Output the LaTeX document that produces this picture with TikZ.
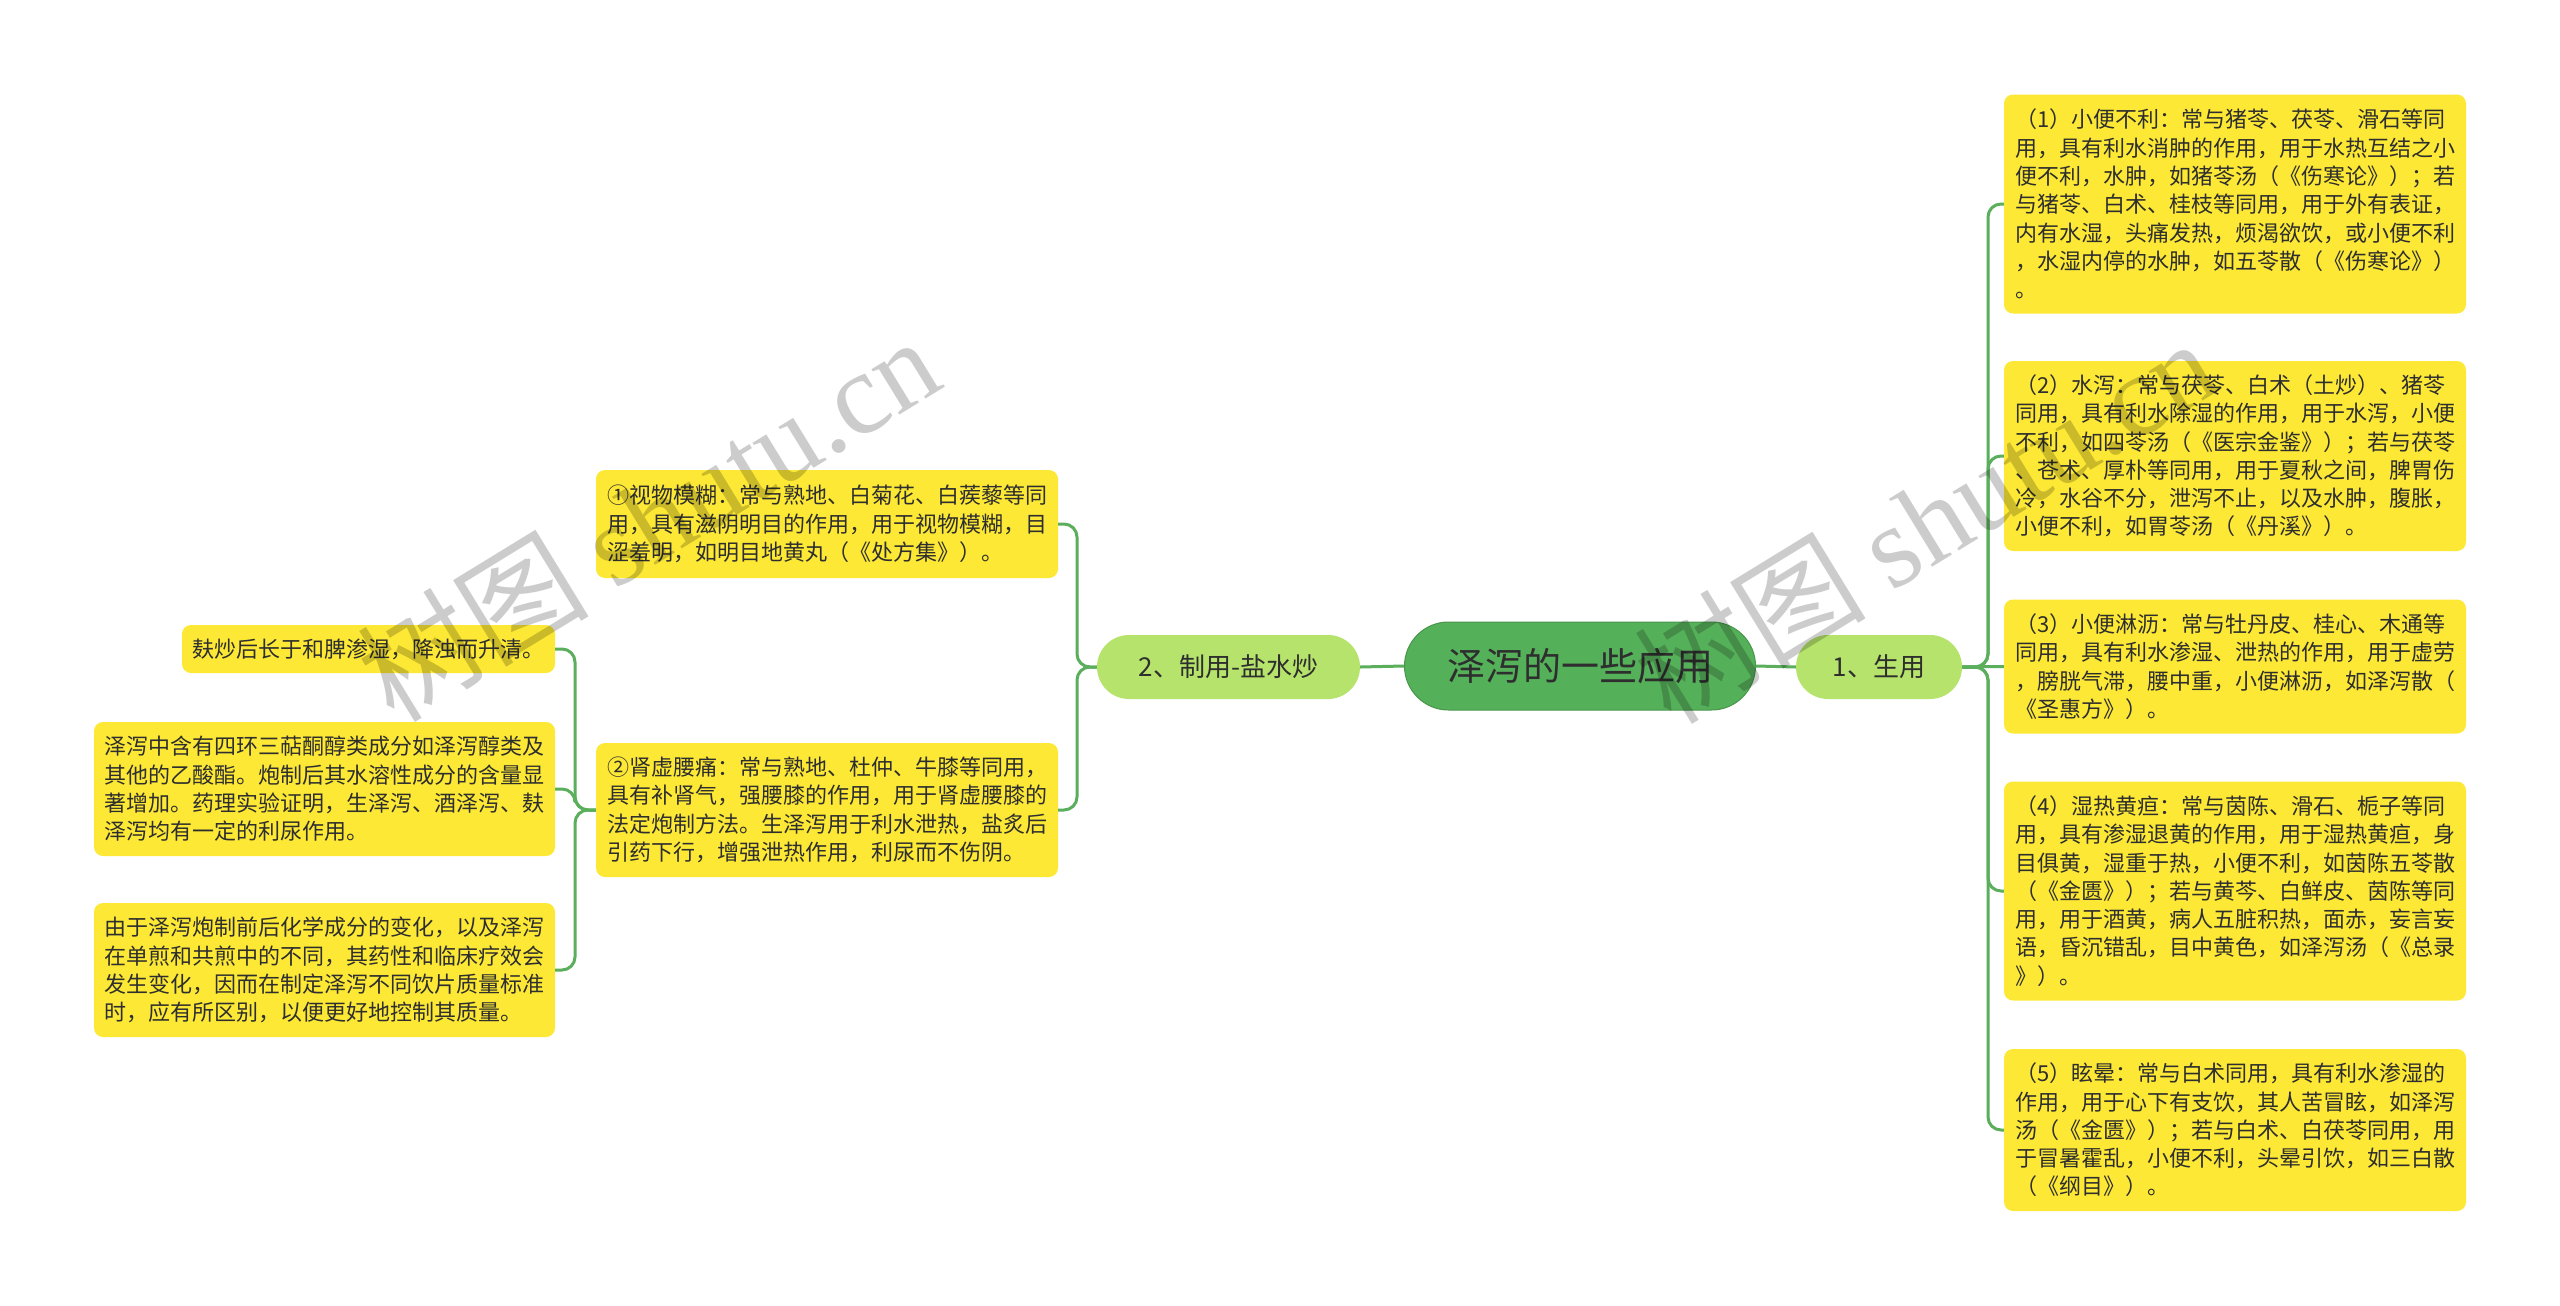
\documentclass[tikz,border=0pt]{standalone}
\usepackage{fontspec}
\setmainfont{Noto Sans CJK SC}
\newfontfamily\wmserif{Liberation Serif}
\usetikzlibrary{calc}
\definecolor{rootgreen}{HTML}{55B05A}
\definecolor{lvlgreen}{HTML}{B5E36B}
\definecolor{leafyellow}{HTML}{FDE935}
\definecolor{linegreen}{HTML}{5AAE5C}
\definecolor{txt}{HTML}{2E2E2E}
\begin{document}
\begin{tikzpicture}[x=1pt,y=-1pt,
  conn/.style={draw=linegreen,line width=3pt,rounded corners=13pt},
  rootbox/.style={fill=rootgreen,draw=rootgreen!85!black,line width=1pt,rounded corners=44pt,minimum width=351pt,minimum height=88pt,inner sep=0pt,text=txt,font=\fontsize{38}{42}\selectfont},
  lvlbox/.style={fill=lvlgreen,rounded corners=32pt,minimum height=64pt,inner sep=0pt,text=txt,font=\fontsize{26}{30}\selectfont},
  leafbox/.style={fill=leafyellow,rounded corners=9pt,minimum width=462pt,inner sep=0pt,align=left,text=txt,font=\fontsize{22}{28.3}\selectfont},
  wm/.style={text=black,text opacity=0.2,rotate=31.5,inner sep=0pt}
]
\useasboundingbox[fill=white] (0,0) rectangle (2560,1306);

% central and first level
\node[rootbox] (root) at (1580,666) {泽泻的一些应用};
\node[lvlbox,minimum width=166pt] (sheng) at (1879,667) {1、生用};
\node[lvlbox,minimum width=263pt] (zhi) at (1228.5,667) {2、制用-盐水炒};

% right leaves
\node[leafbox,minimum height=219pt] (r1) at (2235,204) {（1）小便不利：常与猪苓、茯苓、滑石等同\\用，具有利水消肿的作用，用于水热互结之小\\便不利，水肿，如猪苓汤（《伤寒论》）；若\\与猪苓、白术、桂枝等同用，用于外有表证，\\内有水湿，头痛发热，烦渴欲饮，或小便不利\\，水湿内停的水肿，如五苓散（《伤寒论》）\\。};
\node[leafbox,minimum height=190pt] (r2) at (2235,456) {（2）水泻：常与茯苓、白术（土炒）、猪苓\\同用，具有利水除湿的作用，用于水泻，小便\\不利，如四苓汤（《医宗金鉴》）；若与茯苓\\、苍术、厚朴等同用，用于夏秋之间，脾胃伤\\冷，水谷不分，泄泻不止，以及水肿，腹胀，\\小便不利，如胃苓汤（《丹溪》）。};
\node[leafbox,minimum height=134pt] (r3) at (2235,666.5) {（3）小便淋沥：常与牡丹皮、桂心、木通等\\同用，具有利水渗湿、泄热的作用，用于虚劳\\，膀胱气滞，腰中重，小便淋沥，如泽泻散（\\《圣惠方》）。};
\node[leafbox,minimum height=219pt] (r4) at (2235,891) {（4）湿热黄疸：常与茵陈、滑石、栀子等同\\用，具有渗湿退黄的作用，用于湿热黄疸，身\\目俱黄，湿重于热，小便不利，如茵陈五苓散\\（《金匮》）；若与黄芩、白鲜皮、茵陈等同\\用，用于酒黄，病人五脏积热，面赤，妄言妄\\语，昏沉错乱，目中黄色，如泽泻汤（《总录\\》）。};
\node[leafbox,minimum height=162pt] (r5) at (2235,1130) {（5）眩晕：常与白术同用，具有利水渗湿的\\作用，用于心下有支饮，其人苦冒眩，如泽泻\\汤（《金匮》）；若与白术、白茯苓同用，用\\于冒暑霍乱，小便不利，头晕引饮，如三白散\\（《纲目》）。};

% middle-left leaves
\node[leafbox,minimum height=108pt] (m1) at (827,524) {①视物模糊：常与熟地、白菊花、白蒺藜等同\\用，具有滋阴明目的作用，用于视物模糊，目\\涩羞明，如明目地黄丸（《处方集》）。};
\node[leafbox,minimum height=134pt] (m2) at (827,810) {②肾虚腰痛：常与熟地、杜仲、牛膝等同用，\\具有补肾气，强腰膝的作用，用于肾虚腰膝的\\法定炮制方法。生泽泻用于利水泄热，盐炙后\\引药下行，增强泄热作用，利尿而不伤阴。};

% far-left leaves
\node[leafbox,minimum width=373pt,minimum height=48pt] (b1) at (368.5,649) {麸炒后长于和脾渗湿，降浊而升清。};
\node[leafbox,minimum width=461pt,minimum height=134pt] (b2) at (324.5,789) {泽泻中含有四环三萜酮醇类成分如泽泻醇类及\\其他的乙酸酯。炮制后其水溶性成分的含量显\\著增加。药理实验证明，生泽泻、酒泽泻、麸\\泽泻均有一定的利尿作用。};
\node[leafbox,minimum width=461pt,minimum height=134pt] (b3) at (324.5,970) {由于泽泻炮制前后化学成分的变化，以及泽泻\\在单煎和共煎中的不同，其药性和临床疗效会\\发生变化，因而在制定泽泻不同饮片质量标准\\时，应有所区别，以便更好地控制其质量。};

% connectors
\draw[conn] (root.east) -- (sheng.west);
\draw[conn] (root.west) -- (zhi.east);
\coordinate (rs) at (1988,667);
\draw[conn] (sheng.east) -- (rs) |- (r1.west);
\draw[conn] (sheng.east) -- (rs) |- (r2.west);
\draw[conn] (sheng.east) -- (r3.west);
\draw[conn] (sheng.east) -- (rs) |- (r4.west);
\draw[conn] (sheng.east) -- (rs) |- (r5.west);
\coordinate (ls) at (1077,667);
\draw[conn] (zhi.west) -- (ls) |- (m1.east);
\draw[conn] (zhi.west) -- (ls) |- (m2.east);
\coordinate (ls2) at (575,810);
\draw[conn] (m2.west) -- (ls2) |- (b1.east);
\draw[conn] (m2.west) -- (ls2) |- (b2.east);
\draw[conn] (m2.west) -- (ls2) |- (b3.east);

% watermarks
\node[wm] (wm1) at (648,518) {\fontsize{116}{116}\selectfont 树图 {\wmserif shutu.cn}};
\node[wm] (wm2) at (1925,520) {\fontsize{116}{116}\selectfont 树图 {\wmserif shutu.cn}};
\end{tikzpicture}
\end{document}
